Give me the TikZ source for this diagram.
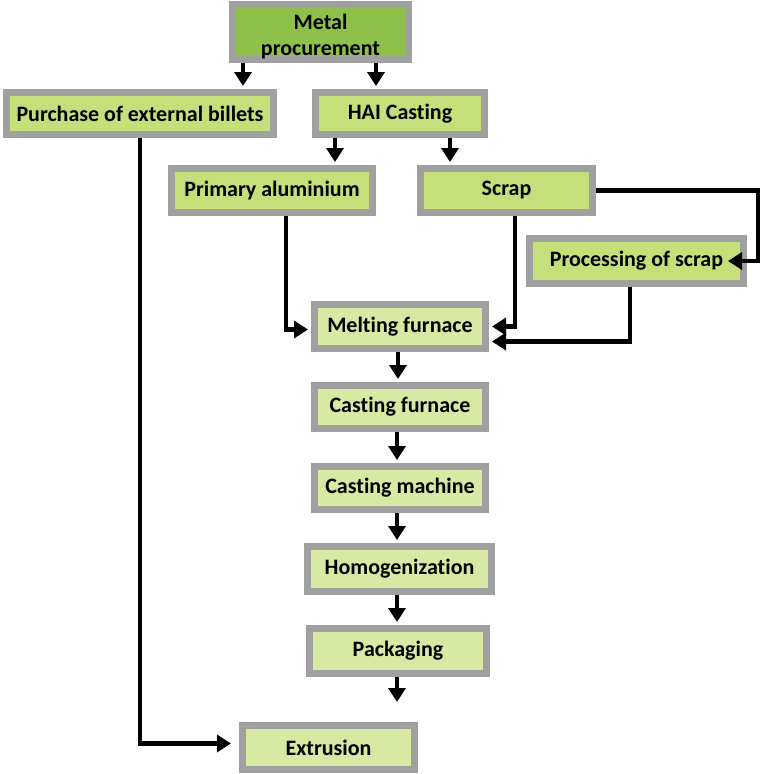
\documentclass[tikz,border=0pt]{standalone}
\usepackage{fontspec}
\setmainfont{Carlito}[Ligatures={NoCommon}]
\usetikzlibrary{arrows.meta}
\definecolor{topfill}{RGB}{142,193,76}
\definecolor{upfill}{RGB}{197,224,123}
\definecolor{lowfill}{RGB}{215,233,163}
\definecolor{boxline}{RGB}{160,160,160}
\tikzset{
  box/.style={draw=boxline, line width=7pt, inner sep=0pt, align=center,
    font=\fontsize{22}{26}\selectfont\bfseries, text=black},
  topbox/.style={box, fill=topfill},
  upbox/.style={box, fill=upfill},
  lowbox/.style={box, fill=lowfill},
  arr/.style={line width=4.5pt, -{Triangle[width=17pt,length=14pt]}, shorten >=3pt}
}
\begin{document}
\begin{tikzpicture}[x=1pt,y=-1pt]
\useasboundingbox (0,0) rectangle (760,774);
\node[topbox, minimum width=176pt, minimum height=55pt] (metal) at (320.5,32) {};
\node[align=center, font=\fontsize{22}{26}\selectfont\bfseries] (metaltext) at (320.5,37) {Metal\\procurement};
\node[upbox, minimum width=267pt, minimum height=42pt] (purchase) at (140,113.5) {Purchase of external billets};
\node[upbox, minimum width=169pt, minimum height=42pt] (hai) at (400,113.5) {HAI Casting};
\node[upbox, minimum width=201pt, minimum height=44pt] (primary) at (272,190.5) {Primary aluminium};
\node[upbox, minimum width=172pt, minimum height=44pt] (scrap) at (506.5,190.5) {Scrap};
\node[upbox, minimum width=214pt, minimum height=45pt] (proc) at (636.5,261) {Processing of scrap};
\node[lowbox, minimum width=171pt, minimum height=44pt] (melt) at (400,326.5) {Melting furnace};
\node[lowbox, minimum width=171pt, minimum height=43pt] (castf) at (400,407) {Casting furnace};
\node[lowbox, minimum width=171pt, minimum height=43pt] (castm) at (400,488) {Casting machine};
\node[lowbox, minimum width=184pt, minimum height=45pt] (homog) at (399.5,569) {Homogenization};
\node[lowbox, minimum width=177pt, minimum height=45pt] (pack) at (398,651) {Packaging};
\node[lowbox, minimum width=172pt, minimum height=44pt] (extr) at (328.5,747.5) {Extrusion};
\coordinate (packend) at (397,702);

\draw[arr] (metal.south -| 243,0) -- (purchase.north -| 243,0);
\draw[arr] (metal.south -| 376,0) -- (hai.north -| 376,0);
\draw[arr] (hai.south -| 335,0) -- (primary.north -| 335,0);
\draw[arr] (hai.south -| 450,0) -- (scrap.north -| 450,0);
\draw[arr] (primary.south -| 286,0) |- ([yshift=-3pt]melt.west);
\draw[arr] (scrap.south -| 515,0) |- (melt.east);
\draw[arr, shorten >=-19pt] (scrap.east) -- ++(162,0) |- (proc.east);
\draw[arr] (proc.south -| 630,0) |- ([yshift=-15pt]melt.east);
\draw[arr] (melt.south -| 398,0) -- (castf.north -| 398,0);
\draw[arr] (castf.south -| 397,0) -- (castm.north -| 397,0);
\draw[arr] (castm.south -| 397,0) -- (homog.north -| 397,0);
\draw[arr] (homog.south -| 397,0) -- (pack.north -| 397,0);
\draw[arr, shorten >=0pt] (pack.south -| 397,0) -- (packend);
\draw[arr, shorten >=8pt] (purchase.south -| 140,0) |- ([yshift=4pt]extr.west);
\end{tikzpicture}
\end{document}
